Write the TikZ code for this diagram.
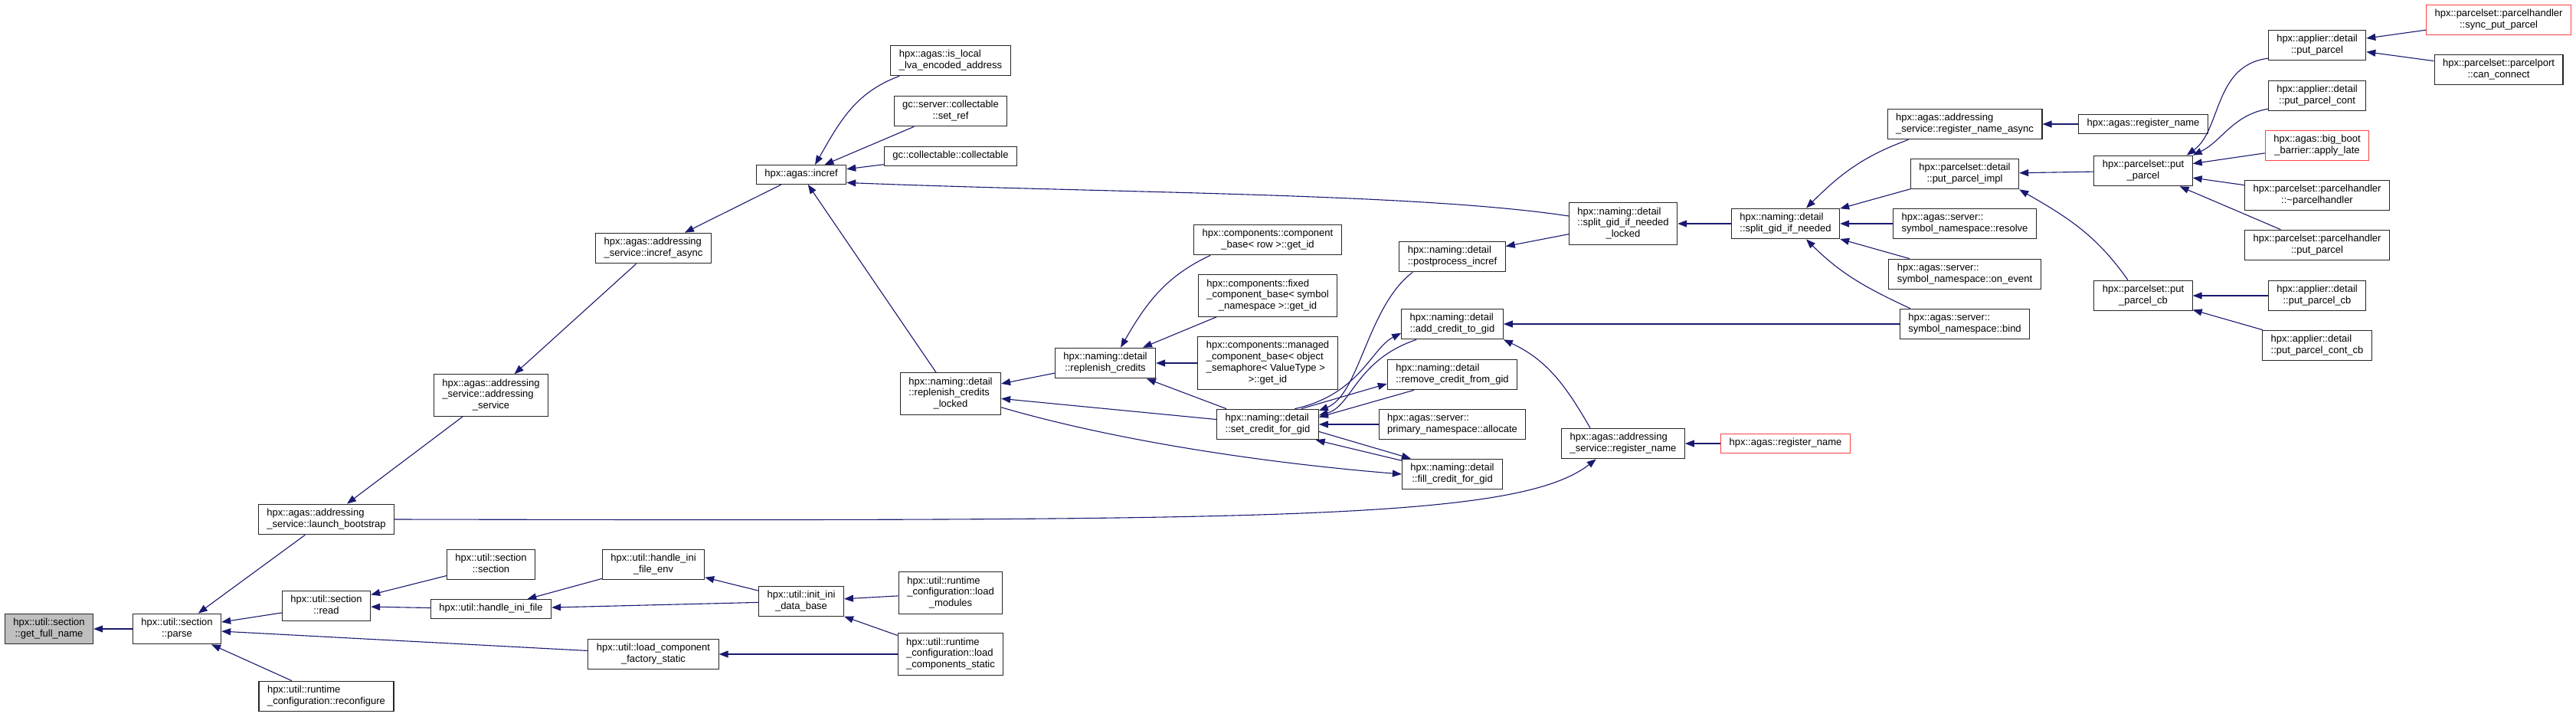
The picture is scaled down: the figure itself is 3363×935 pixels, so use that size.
\documentclass[tikz,border=0pt]{standalone}
\usepackage{fontspec}
\setmainfont{Liberation Sans}
\usetikzlibrary{arrows.meta}
\definecolor{edgeblue}{RGB}{25,25,112}
\definecolor{callred}{RGB}{255,64,64}
\definecolor{rootgray}{RGB}{191,191,191}
\newcommand{\fnlbl}[2]{\begin{tabular}{@{}l@{}}#1\\\multicolumn{1}{@{}c@{}}{#2}\end{tabular}}
\newcommand{\fnone}[1]{\begin{tabular}{@{}c@{}}#1\end{tabular}}

\begin{document}
\begin{tikzpicture}[x=1pt,y=1pt,
  fn/.style={draw=black!85,line width=1.1pt,fill=white,inner xsep=11pt,inner ysep=5pt,font=\fontsize{13}{14.8}\selectfont},
  root/.style={fn,fill=rootgray},
  redfn/.style={fn,draw=callred},
  call/.style={{Triangle[length=12pt,width=9pt]}-,draw=edgeblue,line width=1.1pt}]
\useasboundingbox (0,0) rectangle (3363,-935);

\node[root] (getfull) at (64,-821) {\fnlbl{hpx::util::section}{::get\_full\_name}};
\node[fn] (parse) at (231,-821) {\fnlbl{hpx::util::section}{::parse}};
\node[fn] (launch) at (426,-678) {\fnlbl{hpx::agas::addressing}{\_service::launch\_bootstrap}};
\node[fn] (read) at (426,-791) {\fnlbl{hpx::util::section}{::read}};
\node[fn] (reconf) at (426,-909) {\fnlbl{hpx::util::runtime}{\_configuration::reconfigure}};
\node[fn] (addrsvc) at (641,-516) {\fnlbl{hpx::agas::addressing\\\_service::addressing}{\_service}};
\node[fn] (secsec) at (641,-737) {\fnlbl{hpx::util::section}{::section}};
\node[fn] (inifile) at (641,-795) {\fnone{hpx::util::handle\_ini\_file}};
\node[fn] (increfasync) at (853,-324) {\fnlbl{hpx::agas::addressing}{\_service::incref\_async}};
\node[fn] (inienv) at (853,-737) {\fnlbl{hpx::util::handle\_ini}{\_file\_env}};
\node[fn] (factory) at (853,-854) {\fnlbl{hpx::util::load\_component}{\_factory\_static}};
\node[fn] (incref) at (1046,-228) {\fnone{hpx::agas::incref}};
\node[fn] (initdb) at (1046,-785) {\fnlbl{hpx::util::init\_ini}{\_data\_base}};
\node[fn] (islocal) at (1241,-79) {\fnlbl{hpx::agas::is\_local}{\_lva\_encoded\_address}};
\node[fn] (setref) at (1241,-145) {\fnlbl{gc::server::collectable}{::set\_ref}};
\node[fn] (collect) at (1241,-204) {\fnone{gc::collectable::collectable}};
\node[fn] (repllocked) at (1241,-514) {\fnlbl{hpx::naming::detail\\::replenish\_credits}{\_locked}};
\node[fn] (loadmod) at (1241,-774) {\fnlbl{hpx::util::runtime\\\_configuration::load}{\_modules}};
\node[fn] (loadcomp) at (1241,-854) {\fnlbl{hpx::util::runtime\\\_configuration::load}{\_components\_static}};
\node[fn] (replcred) at (1443,-474) {\fnlbl{hpx::naming::detail}{::replenish\_credits}};
\node[fn] (comprow) at (1655,-313) {\fnlbl{hpx::components::component}{\_base< row >::get\_id}};
\node[fn] (fixedcomp) at (1655,-386) {\fnlbl{hpx::components::fixed\\\_component\_base< symbol}{\_namespace >::get\_id}};
\node[fn] (managed) at (1655,-474) {\fnlbl{hpx::components::managed\\\_component\_base< object\\\_semaphore< ValueType >}{>::get\_id}};
\node[fn] (setcredit) at (1655,-554) {\fnlbl{hpx::naming::detail}{::set\_credit\_for\_gid}};
\node[fn] (postproc) at (1896,-335) {\fnlbl{hpx::naming::detail}{::postprocess\_incref}};
\node[fn] (addcredit) at (1896,-423) {\fnlbl{hpx::naming::detail}{::add\_credit\_to\_gid}};
\node[fn] (removecredit) at (1896,-489) {\fnlbl{hpx::naming::detail}{::remove\_credit\_from\_gid}};
\node[fn] (allocate) at (1896,-554) {\fnlbl{hpx::agas::server::}{primary\_namespace::allocate}};
\node[fn] (fillcredit) at (1896,-619) {\fnlbl{hpx::naming::detail}{::fill\_credit\_for\_gid}};
\node[fn] (splitlocked) at (2119,-292) {\fnlbl{hpx::naming::detail\\::split\_gid\_if\_needed}{\_locked}};
\node[fn] (regname) at (2119,-579) {\fnlbl{hpx::agas::addressing}{\_service::register\_name}};
\node[fn] (splitgid) at (2331,-292) {\fnlbl{hpx::naming::detail}{::split\_gid\_if\_needed}};
\node[redfn] (agasregname) at (2331,-579) {\fnone{hpx::agas::register\_name}};
\node[fn] (regasync) at (2565,-162) {\fnlbl{hpx::agas::addressing}{\_service::register\_name\_async}};
\node[fn] (putimpl) at (2565,-227) {\fnlbl{hpx::parcelset::detail}{::put\_parcel\_impl}};
\node[fn] (resolve) at (2565,-292) {\fnlbl{hpx::agas::server::}{symbol\_namespace::resolve}};
\node[fn] (onevent) at (2565,-358) {\fnlbl{hpx::agas::server::}{symbol\_namespace::on\_event}};
\node[fn] (bind) at (2565,-423) {\fnlbl{hpx::agas::server::}{symbol\_namespace::bind}};
\node[fn] (registername) at (2798,-162) {\fnone{hpx::agas::register\_name}};
\node[fn] (putparcel) at (2798,-223) {\fnlbl{hpx::parcelset::put}{\_parcel}};
\node[fn] (putparcelcb) at (2798,-386) {\fnlbl{hpx::parcelset::put}{\_parcel\_cb}};
\node[fn] (applput) at (3025,-59) {\fnlbl{hpx::applier::detail}{::put\_parcel}};
\node[fn] (applcont) at (3025,-125) {\fnlbl{hpx::applier::detail}{::put\_parcel\_cont}};
\node[redfn] (bigboot) at (3025,-190) {\fnlbl{hpx::agas::big\_boot}{\_barrier::apply\_late}};
\node[fn] (phdtor) at (3025,-255) {\fnlbl{hpx::parcelset::parcelhandler}{::\textasciitilde parcelhandler}};
\node[fn] (phput) at (3025,-320) {\fnlbl{hpx::parcelset::parcelhandler}{::put\_parcel}};
\node[fn] (applcb) at (3025,-386) {\fnlbl{hpx::applier::detail}{::put\_parcel\_cb}};
\node[fn] (applcontcb) at (3025,-451) {\fnlbl{hpx::applier::detail}{::put\_parcel\_cont\_cb}};
\node[redfn] (syncput) at (3262,-26) {\fnlbl{hpx::parcelset::parcelhandler}{::sync\_put\_parcel}};
\node[fn] (canconnect) at (3262,-91) {\fnlbl{hpx::parcelset::parcelport}{::can\_connect}};

\draw[call] (getfull) -- (parse);
\draw[call] (parse) -- (launch);
\draw[call] (parse) -- (read);
\draw[call] (parse) -- (factory);
\draw[call] (parse) -- (reconf);
\draw[call] (launch) -- (addrsvc);
\draw[call] (addrsvc) -- (increfasync);
\draw[call] (increfasync) -- (incref);
\draw[call] ([xshift=18pt]incref.north) to[out=60,in=200] ([xshift=12pt]islocal.south west);
\draw[call] (incref) -- (setref);
\draw[call] (incref) -- (collect);
\draw[call] (incref.-10) .. controls (1450,-252) and (1850,-252) .. (splitlocked.172);
\draw[call] (incref) -- (repllocked);
\draw[call] (read) -- (secsec);
\draw[call] (read) -- (inifile);
\draw[call] (inifile) -- (inienv);
\draw[call] (inifile) -- (initdb);
\draw[call] (inienv) -- (initdb);
\draw[call] (initdb) -- (loadmod);
\draw[call] (initdb) -- (loadcomp);
\draw[call] (factory) -- (loadcomp);
\draw[call] (regname.-150) .. controls (1980,-680) and (1650,-680) .. (launch.east);
\draw[call] (regname) -- (agasregname);
\draw[call] (addcredit.south east) to[out=-25,in=120] ([xshift=-43pt]regname.north);
\draw[call] (addcredit) -- (bind);
\draw[call] (repllocked) -- (replcred);
\draw[call] (repllocked) -- (setcredit);
\draw[call] (fillcredit.west) .. controls (1600,-600) and (1420,-565) .. (repllocked.-15);
\draw[call] ([xshift=20pt]replcred.north) to[out=60,in=205] ([xshift=22pt]comprow.south west);
\draw[call] (replcred) -- (fixedcomp);
\draw[call] (replcred) -- (managed);
\draw[call] (replcred) -- (setcredit);
\draw[call] (setcredit.15) .. controls (1775,-515) and (1785,-400) .. ([xshift=18pt]postproc.south west);
\draw[call] (setcredit.10) .. controls (1765,-530) and (1770,-470) .. ([xshift=20pt]addcredit.south west);
\draw[call] (addcredit.-170) .. controls (1790,-455) and (1775,-515) .. (setcredit.30);
\draw[call] (removecredit.-172) -- (setcredit.25);
\draw[call] (setcredit.8) -- ([xshift=35pt]removecredit.south west);
\draw[call] (setcredit) -- (allocate);
\draw[call] ([xshift=12pt]fillcredit.north west) -- (setcredit.-8);
\draw[call] (setcredit.-18) -- (fillcredit.165);
\draw[call] (splitlocked) -- (splitgid);
\draw[call] (postproc) -- (splitlocked);
\draw[call] ([xshift=27pt]splitgid.north) to[out=45,in=200] ([xshift=28pt]regasync.south west);
\draw[call] (splitgid) -- (putimpl);
\draw[call] (splitgid) -- (resolve);
\draw[call] (splitgid) -- (onevent);
\draw[call] ([xshift=27pt]splitgid.south) to[out=-45,in=155] ([xshift=14pt]bind.north west);
\draw[call] (regasync) -- (registername);
\draw[call] (putimpl) -- (putparcel);
\draw[call] (putimpl.south east) to[out=-30,in=125] ([xshift=-20pt]putparcelcb.north);
\draw[call] ([xshift=-8pt]putparcel.north east) .. controls (2900,-170) and (2890,-85) .. (applput.-165);
\draw[call] (putparcel.north east) .. controls (2900,-185) and (2915,-150) .. (applcont.-165);
\draw[call] (putparcel) -- (bigboot);
\draw[call] (putparcel) -- (phdtor);
\draw[call] (putparcel) -- (phput);
\draw[call] (putparcelcb) -- (applcb);
\draw[call] (putparcelcb) -- (applcontcb);
\draw[call] (applput) -- (syncput);
\draw[call] (applput) -- (canconnect);
\end{tikzpicture}
\end{document}
